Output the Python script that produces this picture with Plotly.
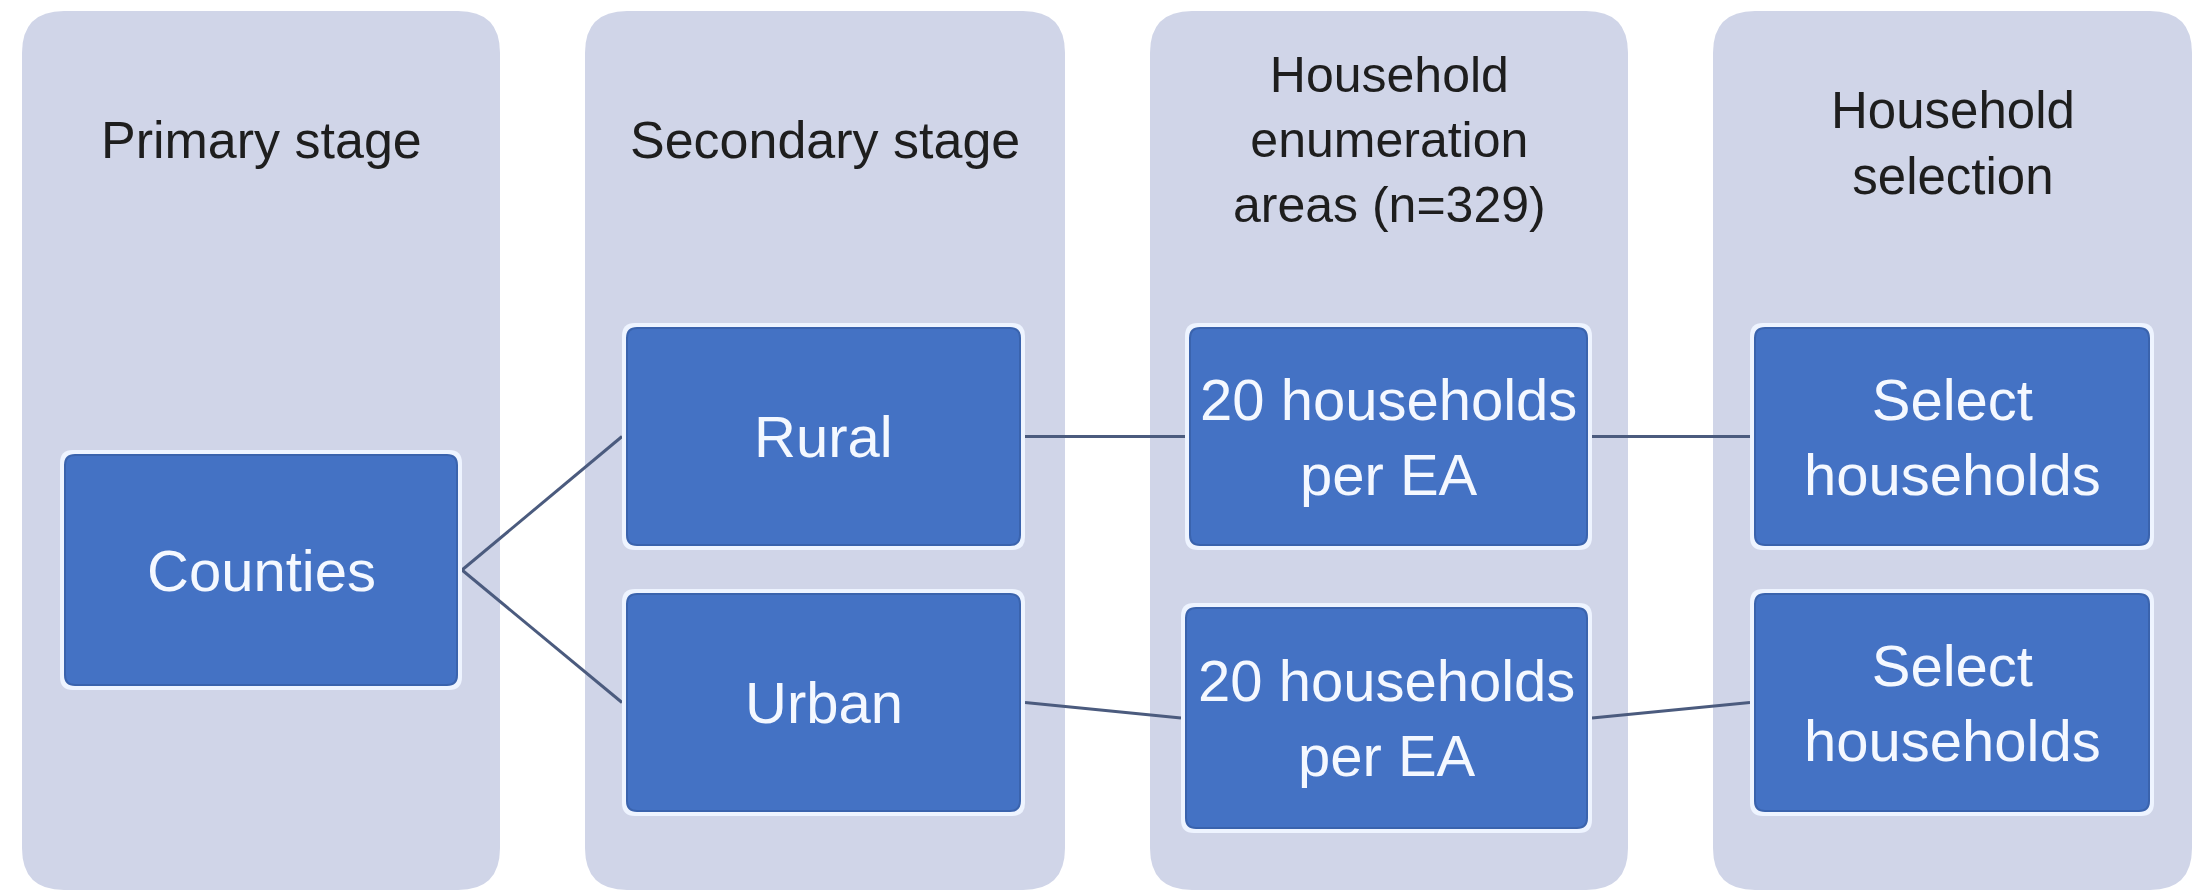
import plotly.graph_objects as go

# ---------------- data ----------------
stage_titles = ["Primary stage", "Secondary stage",
                "Household<br>enumeration<br>areas (n=329)", "Household<br>selection"]
node_labels = ["Counties", "Rural", "Urban",
               "20 households<br>per EA", "20 households<br>per EA",
               "Select<br>households", "Select<br>households"]
node_stage = [0, 1, 1, 2, 2, 3, 3]
edge_from = [0, 0, 1, 2, 3, 4]
edge_to = [1, 2, 3, 4, 5, 6]

# ---------------- layout geometry (pixels) ----------------
W, H = 2199, 894
panel_x = [(22, 500), (585, 1065), (1150, 1628), (1713, 2192)]
panel_y = (11, 890)
title_y = [140, 140, 140, 143]
title_size = [52, 52, 50, 51]
node_box = [
    (60, 462, 450, 690),
    (622, 1025, 323, 550),
    (622, 1025, 589, 816),
    (1185, 1592, 323, 550),
    (1181, 1592, 603, 833),
    (1750, 2154, 323, 550),
    (1750, 2154, 589, 816),
]

PANEL_COL = "#D0D5E8"
BOX_COL = "#4472C4"
BOX_EDGE = "#3A63AD"
BORDER_COL = "#EEF4FF"
LINE_COL = "#4B5B7E"
FONT = "Liberation Sans, Arial, sans-serif"


def rrect(x0, x1, y0, y1, r):
    return (f"M {x0+r},{y0} L {x1-r},{y0} Q {x1},{y0} {x1},{y0+r} "
            f"L {x1},{y1-r} Q {x1},{y1} {x1-r},{y1} L {x0+r},{y1} "
            f"Q {x0},{y1} {x0},{y1-r} L {x0},{y0+r} Q {x0},{y0} {x0+r},{y0} Z")


fig = go.Figure()
shapes = []
for (x0, x1) in panel_x:
    shapes.append(dict(type="path", path=rrect(x0, x1, panel_y[0], panel_y[1], 42),
                       fillcolor=PANEL_COL, line=dict(width=0), layer="below"))

annotations = []
for i, t in enumerate(stage_titles):
    x0, x1 = panel_x[i]
    annotations.append(dict(x=(x0 + x1) / 2, y=title_y[i], text=t, showarrow=False,
                            xanchor="center", yanchor="middle",
                            font=dict(family=FONT, size=title_size[i], color="#1E1E1E")))

# connectors
for a, b in zip(edge_from, edge_to):
    ax0, ax1, ay0, ay1 = node_box[a]
    bx0, bx1, by0, by1 = node_box[b]
    fig.add_trace(go.Scatter(x=[ax1, bx0], y=[(ay0 + ay1) / 2, (by0 + by1) / 2],
                             mode="lines", line=dict(color=LINE_COL, width=3),
                             hoverinfo="skip", showlegend=False))

for i, lab in enumerate(node_labels):
    x0, x1, y0, y1 = node_box[i]
    shapes.append(dict(type="path", path=rrect(x0, x1, y0, y1, 13),
                       fillcolor=BORDER_COL, line=dict(width=0), layer="above"))
    shapes.append(dict(type="path", path=rrect(x0 + 5, x1 - 5, y0 + 5, y1 - 5, 10),
                       fillcolor=BOX_COL, line=dict(color=BOX_EDGE, width=2), layer="above"))
    annotations.append(dict(x=(x0 + x1) / 2, y=(y0 + y1) / 2, text=lab, showarrow=False,
                            xanchor="center", yanchor="middle",
                            font=dict(family=FONT, size=58, color="#F4F8FF")))

fig.update_layout(
    width=W, height=H, margin=dict(l=0, r=0, t=0, b=0),
    paper_bgcolor="white", plot_bgcolor="white",
    xaxis=dict(range=[0, W], visible=False, fixedrange=True),
    yaxis=dict(range=[H, 0], visible=False, fixedrange=True),
    shapes=shapes, annotations=annotations, showlegend=False,
)

fig.write_html("out.html", config={"displayModeBar": False},
               post_script="document.body.style.margin='0';")
